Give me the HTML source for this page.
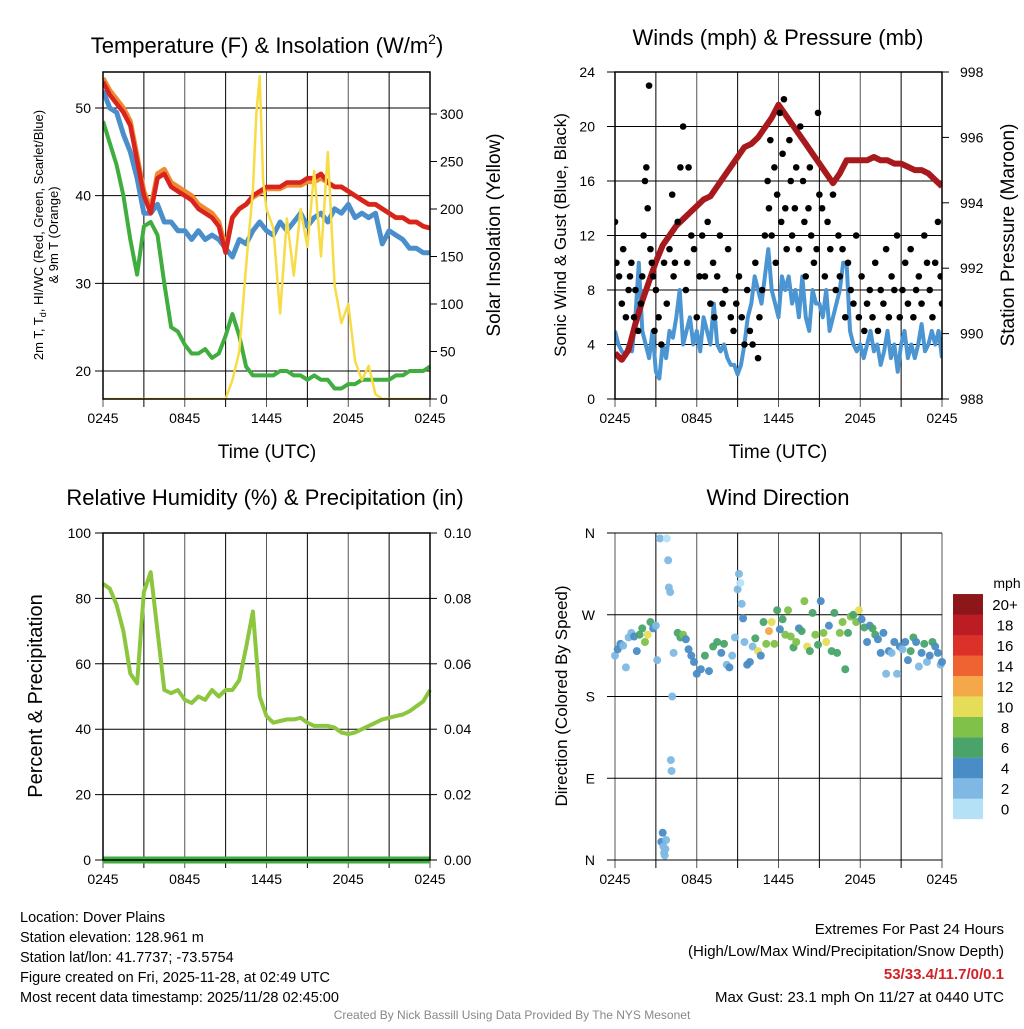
<!DOCTYPE html>
<html><head><meta charset="utf-8"><style>
body{margin:0;background:#fff}
svg text{font-family:"Liberation Sans",Arial,sans-serif;fill:#000}
</style></head><body>
<svg id="c" width="1024" height="1024" viewBox="0 0 1024 1024" xmlns="http://www.w3.org/2000/svg"></svg>
<script>
// ---------- data ----------
const times=[0,0.5,1,1.5,2,2.5,3,3.5,4,4.5,5,5.5,6,6.5,7,7.5,8,8.5,9,9.5,10,10.5,11,11.5,12,12.5,13,13.5,14,14.5,15,15.5,16,16.5,17,17.5,18,18.5,19,19.5,20,20.5,21,21.5,22,22.5,23,23.5,24];
const windTimes=[0,0.25,0.5,0.75,1,1.25,1.5,1.75,2,2.25,2.5,2.75,3,3.25,3.5,3.75,4,4.25,4.5,4.75,5,5.25,5.5,5.75,6,6.25,6.5,6.75,7,7.25,7.5,7.75,8,8.25,8.5,8.75,9,9.25,9.5,9.75,10,10.25,10.5,10.75,11,11.25,11.5,11.75,12,12.25,12.5,12.75,13,13.25,13.5,13.75,14,14.25,14.5,14.75,15,15.25,15.5,15.75,16,16.25,16.5,16.75,17,17.25,17.5,17.75,18,18.25,18.5,18.75,19,19.25,19.5,19.75,20,20.25,20.5,20.75,21,21.25,21.5,21.75,22,22.25,22.5,22.75,23,23.25,23.5,23.75,24];
const xTickLabels=["0245","0845","1445","2045","0245"];
const tempRed=[53,51.5,50.5,49.5,48,44,40,38,42,42.5,41,40.5,40,39.5,38.5,38,37.5,36.5,33.5,37.5,38.5,39,40,40.5,41,41,41,41.5,41.5,41.5,42,42,42.5,41.5,41,41,40.5,40,39.5,39,39,38.5,38,37.5,37.5,37,37,36.5,36.3];
const temp9mOrange=[53.4,52,51,50,48.5,44.5,40.5,38.5,42.5,43,41.5,41,40.5,40,39,38.5,38,37,34,37.5,38.5,39,39.8,40.3,40.8,40.8,40.8,41.2,41.2,41.2,41.6,41.6,42,41.5,41,41,40.5,40,39.5,39,39,38.5,38,37.5,37.5,37,37,36.5,36.3];
const heatWCBlue=[52,50,49.5,47,45,42,38,38,39,37,37,36,36,35,36,35,35.5,35,34,33,35,34.5,36,37,36,35.5,37,36,37,38,36.5,37.5,38,37,38.5,38,39,37.5,38,37.5,38,34.5,36,35.5,35,34,34,33.5,33.5];
const dewGreen=[48.5,46,43.5,40,35,31,36.5,37,35.5,30,25,24.5,23,22,22,22.5,21.5,22,24,26.5,24,20.5,19.5,19.5,19.5,19.5,20,20,19.5,19.5,19,19.5,19,19,18,18,18.5,18.5,19,19,19,19,19,19.5,19.5,20,20,20,20.5];
const solarTimes=[0,9,9.5,10,10.5,11,11.25,11.5,11.75,12,12.5,13,13.5,14,14.5,15,15.5,16,16.5,17,17.5,18,18.5,19,19.5,20,20.5,24];
const solarYellow=[0,0,20,50,140,220,300,340,230,200,180,90,190,130,200,160,240,150,260,120,80,100,40,20,35,5,0,0];
const windBlue=[5,4,3.5,3.2,4,3.5,6,10,5,4,3,5,2,1.5,4,3,5,4.5,6,8,4,5,6,4,5,3.5,6,5,4,7,4,3.5,4,3,2.5,2.5,1.8,2.5,4,6,7,9,8,7,9,11,8,7,6,9,8,9,7,8,6,9,6,5,8,7,7,6,8,5,6,7,8,10,10,5,4,3.5,4,3,4,5,3.5,4,2.5,3.5,5,3,4,2,4,5,3,4,3,4,5.5,3.5,4,5,4,5,3];
const pressure=[989.4,989.2,989.5,990.3,991,991.6,992.2,992.7,993,993.3,993.5,993.7,993.9,994.1,994.2,994.5,994.8,995.1,995.4,995.7,995.8,996,996.3,996.6,997,996.7,996.4,996.1,995.8,995.5,995.2,994.9,994.6,994.9,995.3,995.3,995.3,995.3,995.4,995.3,995.3,995.2,995.2,995.1,995.0,995.0,994.9,994.7,994.5];
const gustT=[0,0.1,0.3,0.5,0.6,0.8,1,1.1,1.2,1.4,1.5,1.7,1.9,2,2.1,2.2,2.3,2.4,2.5,2.6,2.7,2.8,2.9,3.0,3.2,3.4,3.6,3.8,4,4.2,4.3,4.4,4.6,4.8,5,5.2,5.3,5.4,5.6,5.8,6,6.2,6.4,6.6,6.8,7,7.2,7.3,7.5,7.7,7.9,8.1,8.3,8.5,8.7,8.9,9.1,9.3,9.5,9.7,9.9,10.1,10.3,10.5,10.6,10.8,11,11.2,11.3,11.4,11.5,11.7,11.8,11.9,12.1,12.2,12.3,12.4,12.5,12.6,12.8,12.9,13,13.2,13.3,13.5,13.6,13.8,13.9,14,14.2,14.3,14.4,14.6,14.8,14.9,15,15.2,15.4,15.6,15.8,16,16.2,16.4,16.5,16.7,16.9,17.1,17.3,17.5,17.7,17.9,18.1,18.3,18.5,18.7,18.9,19.1,19.3,19.5,19.7,19.9,20.1,20.3,20.5,20.7,20.9,21.1,21.3,21.5,21.7,21.9,22.1,22.3,22.5,22.7,22.9,23.1,23.3,23.5,23.7,23.9,24];
const gustV=[13,10,9,7,11,6,8,9,10,6,8,5,7,9,12,16,17,14,23,11,10,9,5,8,6,4,10,7,11,15,9,10,13,17,20,8,10,17,12,11,6,9,12,9,13,7,10,6,9,12,7,8,11,6,5,7,9,6,4,8,5,4,10,3,6,8,12,16,14,19,12,17,10,15,21,13,18,22,14,11,19,16,12,14,17,11,20,16,13,9,14,17,12,10,11,21,15,14,9,13,11,15,8,12,9,11,6,10,8,7,12,6,9,5,7,8,6,10,5,8,7,11,6,9,8,12,6,8,10,7,11,6,8,9,7,12,10,8,6,10,13,9,7];
const rhGreen=[84.5,83,78,70,57,54,82,88,70,52,51,52,49,48,50,49,52,50,52,52,55,65,76,50,44,42,42.5,43,43,43.5,42,41,41,41,40.5,39,38.5,39,40,41,42,43,43.5,44,44.5,45.5,47,48.5,52];
const precip=[0,0,0,0,0,0,0,0,0,0,0,0,0,0,0,0,0,0,0,0,0,0,0,0,0,0,0,0,0,0,0,0,0,0,0,0,0,0,0,0,0,0,0,0,0,0,0,0,0];
const dirT=[0,0.2,0.4,0.6,0.8,1,1.2,1.4,1.6,1.8,2,2.2,2.4,2.6,2.8,3,3.1,3.3,3.4,3.5,3.55,3.6,3.65,3.7,3.75,3.8,3.9,3.95,4.05,4.1,4.15,4.2,4.3,4.6,4.8,5,5.2,5.4,5.6,5.8,6,6.3,6.6,6.9,7.2,7.5,7.8,8,8.2,8.4,8.6,8.8,9,9.1,9.2,9.3,9.4,9.5,9.7,9.9,10.1,10.3,10.5,10.7,10.9,11.1,11.3,11.5,11.7,11.9,12.1,12.3,12.5,12.7,12.9,13.1,13.3,13.5,13.7,13.9,14.1,14.3,14.5,14.7,14.9,15.1,15.3,15.5,15.7,15.9,16.1,16.3,16.5,16.7,16.9,17.1,17.3,17.5,17.7,17.9,18.1,18.3,18.5,18.7,18.9,19.1,19.3,19.5,19.7,19.9,20.1,20.3,20.5,20.7,20.9,21.1,21.3,21.5,21.7,21.9,22.1,22.3,22.5,22.7,22.9,23.1,23.3,23.5,23.7,23.9,24];
const dirDeg=[225,232,238,236,212,245,250,246,230,248,255,240,248,262,255,258,220,354,20,30,15,8,5,12,22,354,330,300,295,110,98,180,228,250,245,248,243,232,225,218,205,210,225,208,235,240,228,238,215,212,225,245,298,315,305,282,266,240,215,218,235,244,230,225,262,238,252,262,238,275,254,265,248,275,246,234,240,255,252,285,235,230,272,248,237,285,250,240,258,230,272,228,250,262,210,250,268,270,262,275,265,256,240,258,255,248,243,228,250,205,230,228,240,205,235,232,240,220,230,245,240,213,228,238,218,225,240,235,228,215,218];
const dirSpd=[3,4,4,3,2,3,3,4,4,6,7,8,10,6,4,3,2,2,4,4,3,2,3,3,2,1,2,2,2,2,2,2,2,6,6,8,4,4,4,4,4,4,6,4,6,6,4,6,2,4,2,2,2,3,1,2,4,2,4,4,2,6,10,4,6,8,12,10,8,6,4,6,8,8,8,6,8,4,6,8,10,6,6,8,6,4,8,10,4,6,6,6,8,8,6,6,8,6,8,10,4,6,4,4,6,6,4,4,4,2,4,2,4,2,4,2,4,4,6,6,4,2,4,6,2,4,6,4,4,2,4];
const speedBins=["0","2","4","6","8","10","12","14","16","18","20+"];

// ---------- helpers ----------
const svg=document.getElementById('c');
const NS="http://www.w3.org/2000/svg";
function mk(tag,attrs,parent){const e=document.createElementNS(NS,tag);for(const k in attrs)e.setAttribute(k,attrs[k]);(parent||svg).appendChild(e);return e;}
function txt(x,y,s,size,anchor,parent,extra){const e=mk('text',Object.assign({x:x,y:y,'font-size':size,'text-anchor':anchor||'middle'},extra||{}),parent);e.textContent=s;return e;}
function lin(d0,d1,r0,r1){return v=>r0+(v-d0)*(r1-r0)/(d1-d0);}
function pathD(xs,ys,fx,fy){return xs.map((t,i)=>(i?'L':'M')+fx(t).toFixed(1)+' '+fy(ys[i]).toFixed(1)).join(' ');}
const speedColors=["#b5e1f6","#7fb9e3","#4a8cc6","#4aa46a","#80c14a","#e5dd57","#f5a849","#ee6331","#dc3128","#bc1d24","#8d1619"];

function frame(x0,x1,y0,y1,name){
  const g=mk('g',{});
  
  
  for(let i=0;i<=8;i++){const x=x0+(x1-x0)*i/8;
    mk('line',{x1:x,x2:x,y1:y0,y2:y1+8,stroke:(i%2?'#000':'#555'),'stroke-width':1},g);}
  const fx=lin(0,24,x0,x1);
  xTickLabels.forEach((s,i)=>{const t=txt(x0+(x1-x0)*i/4,y1+24,s,14,'middle',g);
    });
  return {g,fx};
}
function hgrid(g,x0,x1,y){mk('line',{x1:x0-8,x2:x1,y1:y,y2:y,stroke:'#000','stroke-width':1},g);}
function box(g,x0,x1,y0,y1){mk('rect',{x:x0,y:y0,width:x1-x0,height:y1-y0,fill:'none',stroke:'#000','stroke-width':1.5},g);}

// ---------- Panel 1 ----------
(function(){
  const x0=103,x1=430,y0=72,y1=399;
  const {g,fx}=frame(x0,x1,y0,y1,'temperature-panel');
  const fy=lin(20,50,371,108), fs=lin(0,300,399,114);
  [20,30,40,50].forEach(v=>{hgrid(g,x0,x1,fy(v));const t=txt(x0-12,fy(v)+5,String(v),14,'end',g);});
  [0,50,100,150,200,250,300].forEach(v=>{mk('line',{x1:x1,x2:x1+7,y1:fs(v),y2:fs(v),stroke:'#000'},g);const t=txt(x1+10,fs(v)+5,String(v),14,'start',g);});
  const cp=mk('clipPath',{id:'cp1'});mk('rect',{x:x0,y:y0,width:x1-x0,height:y1-y0},cp);
  const s=mk('g',{'clip-path':'url(#cp1)'},g);
  let p;
  p=mk('path',{d:pathD(times,dewGreen,fx,fy),fill:'none',stroke:'#3fae3f','stroke-width':4,'stroke-linejoin':'round'},s);
  p=mk('path',{d:pathD(times,heatWCBlue,fx,fy),fill:'none',stroke:'#4a8fcb','stroke-width':5,'stroke-linejoin':'round'},s);
  p=mk('path',{d:pathD(times,temp9mOrange,fx,fy),fill:'none',stroke:'#f08a30','stroke-width':5,'stroke-linejoin':'round'},s);
  p=mk('path',{d:pathD(times,tempRed,fx,fy),fill:'none',stroke:'#d9231f','stroke-width':4.5,'stroke-linejoin':'round'},s);
  p=mk('path',{d:pathD(solarTimes,solarYellow,fx,fs),fill:'none',stroke:'#f7dc45','stroke-width':2.5,'stroke-linejoin':'round'},s);
  box(g,x0,x1,y0,y1);
  let t=txt(267,53,'Temperature (F) & Insolation (W/m',22,'middle',g);const sup=mk('tspan',{dy:-9,'font-size':14},t);sup.textContent='2';const cl=mk('tspan',{dy:9},t);cl.textContent=')';
  
  t=txt(0,0,'',13,'middle',g,{transform:'translate(43,235) rotate(-90)'});t.innerHTML='2m T, T<tspan font-size="9" dy="3">d</tspan><tspan dy="-3">, HI/WC (Red, Green, Scarlet/Blue)</tspan>';
  
  t=txt(0,0,'& 9m T (Orange)',13,'middle',g,{transform:'translate(58,235) rotate(-90)'});
  
  t=txt(0,0,'Solar Insolation (Yellow)',19,'middle',g,{transform:'translate(500,235) rotate(-90)'});
  
  t=txt(267,458,'Time (UTC)',19,'middle',g);
})();

// ---------- Panel 2 ----------
(function(){
  const x0=615,x1=942,y0=72,y1=399;
  const {g,fx}=frame(x0,x1,y0,y1,'winds-panel');
  const fy=lin(0,24,y1,y0), fp=lin(988,998,y1,y0);
  [0,4,8,12,16,20,24].forEach(v=>{hgrid(g,x0,x1,fy(v));const t=txt(x0-20,fy(v)+5,String(v),14,'end',g);});
  [988,990,992,994,996,998].forEach(v=>{mk('line',{x1:x1,x2:x1+7,y1:fp(v),y2:fp(v),stroke:'#000'},g);const t=txt(x1+18,fp(v)+5,String(v),14,'start',g);});
  const cp=mk('clipPath',{id:'cp2'});mk('rect',{x:x0,y:y0,width:x1-x0,height:y1-y0},cp);
  const s=mk('g',{'clip-path':'url(#cp2)'},g);
  let p=mk('path',{d:pathD(windTimes,windBlue,fx,fy),fill:'none',stroke:'#4a95d2','stroke-width':4,'stroke-linejoin':'round'},s);
  p=mk('path',{d:pathD(times,pressure,fx,fp),fill:'none',stroke:'#a8191d','stroke-width':6,'stroke-linejoin':'round'},s);
  gustT.forEach((t,i)=>{const c=mk('circle',{cx:fx(t),cy:fy(gustV[i]),r:3.3,fill:'#000'},s);
    
    });
  box(g,x0,x1,y0,y1);
  let t=txt(778,45,'Winds (mph) & Pressure (mb)',22,'middle',g);
  t=txt(0,0,'Sonic Wind & Gust (Blue, Black)',17,'middle',g,{transform:'translate(566,235) rotate(-90)'});
  t=txt(0,0,'Station Pressure (Maroon)',19,'middle',g,{transform:'translate(1014,235) rotate(-90)'});
  t=txt(778,458,'Time (UTC)',19,'middle',g);
})();

// ---------- Panel 3 ----------
(function(){
  const x0=103,x1=430,y0=533,y1=860;
  const {g,fx}=frame(x0,x1,y0,y1,'humidity-panel');
  const fy=lin(0,100,y1,y0), fr=lin(0,0.1,y1,y0);
  [0,20,40,60,80,100].forEach(v=>{hgrid(g,x0,x1,fy(v));const t=txt(x0-12,fy(v)+5,String(v),14,'end',g);});
  [0,0.02,0.04,0.06,0.08,0.1].forEach(v=>{mk('line',{x1:x1,x2:x1+7,y1:fr(v),y2:fr(v),stroke:'#000'},g);const t=txt(x1+14,fr(v)+5,v.toFixed(2),14,'start',g);});
  let p=mk('path',{d:pathD(times,precip,fx,fr),fill:'none',stroke:'#3fae3f','stroke-width':7},g);
  p=mk('path',{d:pathD(times,rhGreen,fx,fy),fill:'none',stroke:'#8cc63f','stroke-width':4,'stroke-linejoin':'round'},g);
  box(g,x0,x1,y0,y1);
  let t=txt(265,505,'Relative Humidity (%) & Precipitation (in)',22,'middle',g);
  t=txt(0,0,'Percent & Precipitation',20,'middle',g,{transform:'translate(42,696) rotate(-90)'});
})();

// ---------- Panel 4 ----------
(function(){
  const x0=615,x1=942,y0=533,y1=860;
  const {g,fx}=frame(x0,x1,y0,y1,'wind-direction-panel');
  const fy=lin(0,360,y1,y0);
  [[0,'N'],[90,'E'],[180,'S'],[270,'W'],[360,'N']].forEach(([v,s])=>{hgrid(g,x0,x1,fy(v));const t=txt(x0-20,fy(v)+5,s,14,'end',g);});
  dirT.forEach((t,i)=>{const c=mk('circle',{cx:fx(t),cy:fy(dirDeg[i]),r:4,fill:speedColors[Math.min(10,Math.floor(dirSpd[i]/2))],'fill-opacity':0.95},g);
    
    });
  let t=txt(778,505,'Wind Direction',22,'middle',g);
  t=txt(0,0,'Direction (Colored By Speed)',17,'middle',g,{transform:'translate(567,696) rotate(-90)'});
  const lg=mk('g',{},g);
  t=txt(1007,588,'mph',14,'middle',lg);
  speedBins.forEach((s,i)=>{const yy=819-(i+1)*20.45;
    mk('rect',{x:953,y:yy,width:30,height:20.6,fill:speedColors[i]},lg);
    const tt=txt(1005,yy+16,s,15,'middle',lg);});
})();

// ---------- footer text ----------
(function(){
  const g=mk('g',{});
  ["Location: Dover Plains","Station elevation: 128.961 m","Station lat/lon: 41.7737; -73.5754","Figure created on Fri, 2025-11-28, at 02:49 UTC","Most recent data timestamp: 2025/11/28 02:45:00"].forEach((s,i)=>txt(20,922+i*20,s,14.5,'start',g));
  const r=mk('g',{});
  txt(1004,934,'Extremes For Past 24 Hours',15,'end',r);
  txt(1004,956,'(High/Low/Max Wind/Precipitation/Snow Depth)',15,'end',r);
  txt(1004,979,'53/33.4/11.7/0/0.1',15,'end',r,{'font-weight':'bold',style:'fill:#d42027'});
  txt(1004,1002,'Max Gust: 23.1 mph On 11/27 at 0440 UTC',15,'end',r);
  const f=txt(512,1019,'Created By Nick Bassill Using Data Provided By The NYS Mesonet',12,'middle',null,{style:'fill:#888'});
  
})();
</script>
</body></html>
